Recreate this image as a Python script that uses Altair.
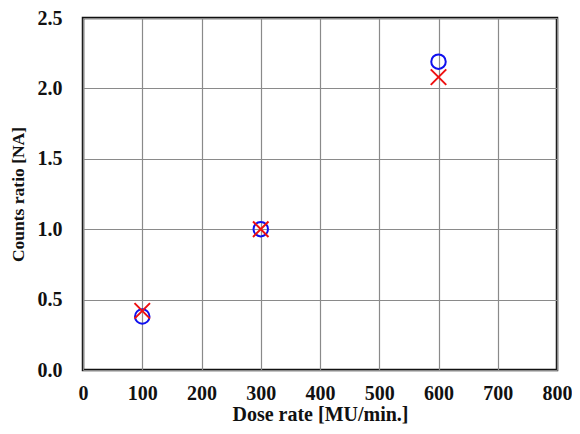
import altair as alt
import pandas as pd

dose = [100, 300, 600]
circle_vals = [0.38, 1.0, 2.19]
cross_vals = [0.42, 1.0, 2.08]

df_c = pd.DataFrame({"dose": dose, "ratio": circle_vals})
df_x = pd.DataFrame({"dose": dose, "ratio": cross_vals})

FONT = "Liberation Serif"

xenc = alt.X("dose:Q", scale=alt.Scale(domain=[0, 800], nice=False),
             axis=alt.Axis(values=list(range(0, 801, 100)), title="Dose rate [MU/min.]",
                           labelFontSize=20, titleFontSize=20, labelPadding=13, titlePadding=1,
                           labelFlush=False))
yenc = alt.Y("ratio:Q", scale=alt.Scale(domain=[0, 2.5], nice=False),
             axis=alt.Axis(values=[0, 0.5, 1.0, 1.5, 2.0, 2.5], format=".1f", title="Counts ratio [NA]",
                           labelFontSize=20, titleFontSize=17.5, labelPadding=21, titlePadding=10,
                           labelFlush=False))

circles = alt.Chart(df_c).mark_point(shape="circle", filled=False, color="#1010ee",
                                     strokeWidth=2, size=210, opacity=1).encode(x=xenc, y=yenc)
crosses = alt.Chart(df_x).mark_point(shape="M-1,-1L1,1M1,-1L-1,1", filled=False, color="#ee1010",
                                     strokeWidth=2, size=240, opacity=1).encode(x=xenc, y=yenc)

chart = alt.layer(circles, crosses).properties(
    width=474, height=352, autosize="none",
    padding={"left": 75, "top": 10, "right": 15, "bottom": 56}
).configure_axis(
    labelFont=FONT, titleFont=FONT, labelFontWeight="bold", titleFontWeight="bold",
    labelColor="#111", titleColor="#111", grid=True, gridColor="#8a8a8a", gridWidth=1.2,
    domain=False, ticks=False
).configure_view(stroke="#111", strokeWidth=2.5)

chart.save("out.html", embed_options={"renderer": "svg", "actions": False})
